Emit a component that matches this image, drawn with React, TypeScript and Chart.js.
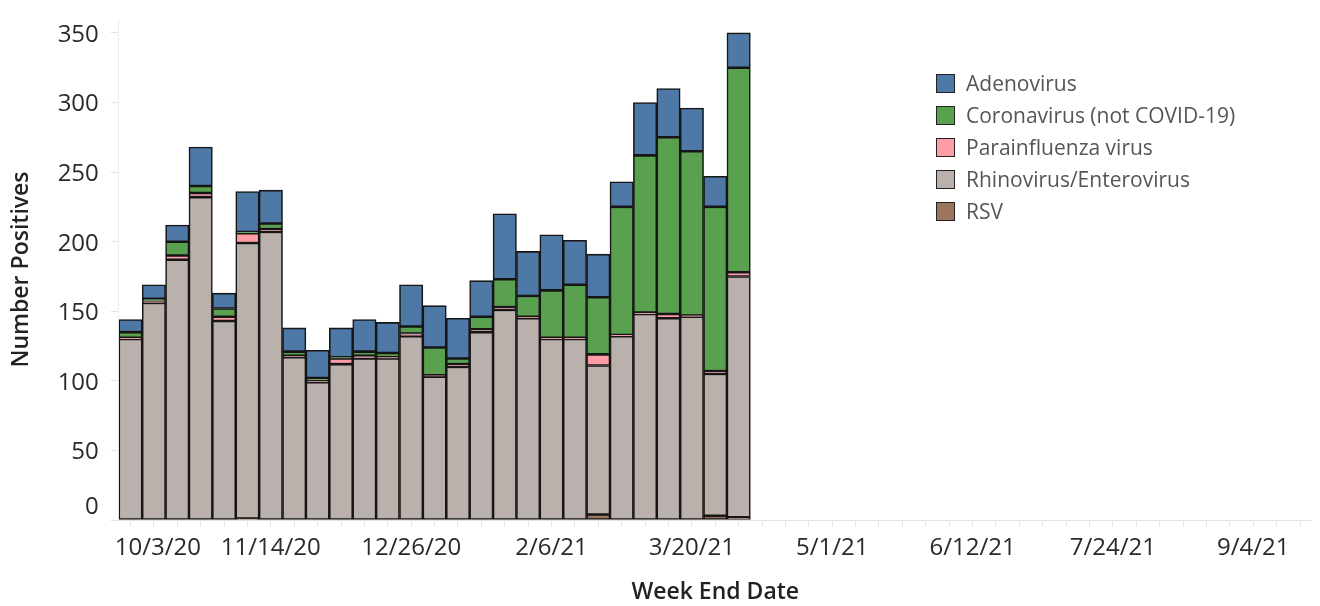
import React, { useEffect, useRef } from 'react';
import { Chart, registerables } from 'chart.js';

Chart.register(...registerables);

const FONT = "'Open Sans', sans-serif";

// Week end dates shown on the axis (weekly)
const weekLabels = [
  '10/3/20', '10/10/20', '10/17/20', '10/24/20', '10/31/20', '11/7/20',
  '11/14/20', '11/21/20', '11/28/20', '12/5/20', '12/12/20', '12/19/20',
  '12/26/20', '1/2/21', '1/9/21', '1/16/21', '1/23/21', '1/30/21',
  '2/6/21', '2/13/21', '2/20/21', '2/27/21', '3/6/21', '3/13/21',
  '3/20/21', '3/27/21', '4/3/21', '4/10/21', '4/17/21', '4/24/21',
  '5/1/21', '5/8/21', '5/15/21', '5/22/21', '5/29/21', '6/5/21',
  '6/12/21', '6/19/21', '6/26/21', '7/3/21', '7/10/21', '7/17/21',
  '7/24/21', '7/31/21', '8/7/21', '8/14/21', '8/21/21', '8/28/21',
  '9/4/21', '9/11/21', '9/18/21',
];

// Series values (bars for 10/3/20 .. 4/3/21)
const rsv = [0, 0, 0, 0, 0, 1, 0, 0, 0, 0, 0, 0, 0, 0, 0, 0, 0, 0, 0, 0, 4, 0, 0, 0, 0, 3, 2];
const rhinoEntero = [130, 156, 187, 232, 143, 198, 207, 117, 99, 112, 116, 116, 132, 103, 110, 135, 151, 145, 130, 130, 107, 132, 148, 145, 146, 102, 173];
const parainfluenza = [1, 1, 3, 3, 3, 7, 2, 1, 1, 4, 2, 1, 2, 1, 2, 2, 2, 1, 1, 1, 8, 1, 1, 3, 1, 2, 3];
const coronavirus = [4, 2, 10, 5, 6, 1, 4, 3, 2, 1, 3, 3, 5, 20, 4, 9, 20, 15, 34, 38, 41, 92, 113, 127, 118, 118, 147];
const adenovirus = [9, 10, 12, 28, 11, 29, 24, 17, 20, 21, 23, 22, 30, 30, 29, 26, 47, 32, 40, 32, 31, 18, 38, 35, 31, 22, 25];

const yTickValues = [0, 50, 100, 150, 200, 250, 300, 350];
const xLabelEvery = 6;

const seriesNames = ['RSV', 'Rhinovirus/Enterovirus', 'Parainfluenza virus', 'Coronavirus (not COVID-19)', 'Adenovirus'];
const seriesColors = ['#9C755F', '#BAB0AC', '#FF9DA7', '#59A14F', '#4E79A7'];
const seriesData = [rsv, rhinoEntero, parainfluenza, coronavirus, adenovirus];

export default function App() {
  const canvasRef = useRef<HTMLCanvasElement | null>(null);

  useEffect(() => {
    document.body.style.margin = '0';
    document.body.style.overflow = 'hidden';
    const canvas = canvasRef.current;
    if (!canvas) return;
    Chart.defaults.font.family = FONT;

    const chart = new Chart(canvas, {
      type: 'bar',
      data: {
        labels: weekLabels,
        datasets: seriesNames.map((name, i) => ({
          label: name,
          data: seriesData[i],
          backgroundColor: seriesColors[i],
          borderColor: '#161616',
          borderWidth: 1.6,
          borderSkipped: false,
          barPercentage: 1,
          categoryPercentage: 1,
        })),
      },
      options: {
        responsive: false,
        animation: false,
        layout: { padding: { top: 19, right: 8.3, bottom: 0, left: 0 } },
        plugins: {
          legend: { display: false },
          tooltip: { enabled: false },
        },
        scales: {
          x: {
            stacked: true,
            offset: true,
            grid: { drawOnChartArea: false, tickLength: 6, color: '#e4e4e4', offset: false },
            border: { color: '#e4e4e4' },
            ticks: {
              autoSkip: false,
              maxRotation: 0,
              minRotation: 0,
              padding: 8,
              color: '#2a2a2a',
              font: { size: 24 },
              callback: (_v: any, i: number) => {
                if (i % xLabelEvery !== 0) return '';
                return i === 0 ? '\u2007\u2007\u2007\u2007' + weekLabels[i] : weekLabels[i];
              },
            },
            title: {
              display: true,
              text: 'Week End Date',
              color: '#222',
              font: { size: 23, weight: '600' },
              padding: { top: 18, bottom: 0 },
            },
            afterFit: (s: any) => { s.height = 86; },
          },
          y: {
            stacked: true,
            min: 0,
            max: 360,
            ticks: {
              stepSize: 50,
              padding: 12,
              labelOffset: 2,
              color: '#2a2a2a',
              font: { size: 24 },
              callback: (v: any) => (v === 0 ? ['0', ''] : String(v)),
            },
            afterBuildTicks: (s: any) => {
              s.ticks = yTickValues.map((v) => ({ value: v }));
            },
            grid: { drawOnChartArea: false, tickLength: 8, color: '#e4e4e4' },
            border: { color: '#eeeeee' },
            title: {
              display: true,
              text: 'Number Positives',
              color: '#222',
              font: { size: 23, weight: '600' },
              padding: { top: 8, bottom: 0 },
            },
            afterFit: (s: any) => {
              s.width = 118.8;
              s.paddingTop = 0;
              s.paddingBottom = 0;
            },
          },
        },
      },
    } as any);

    return () => chart.destroy();
  }, []);

  const legendOrder = [4, 3, 2, 1, 0];

  return (
    <div style={{ position: 'relative', width: 1320, height: 606 }}>
      <canvas ref={canvasRef} width={1320} height={606} style={{ display: 'block' }} />
      <div
        style={{
          position: 'absolute',
          left: 936,
          top: 67.5,
          fontFamily: FONT,
          fontSize: 21,
          color: '#555',
        }}
      >
        {legendOrder.map((idx) => (
          <div key={idx} style={{ display: 'flex', alignItems: 'center', height: 32 }}>
            <span
              style={{
                width: 19,
                height: 19,
                boxSizing: 'border-box',
                border: '1.5px solid #222',
                background: seriesColors[idx],
                marginRight: 11,
                flex: '0 0 auto',
              }}
            />
            <span style={{ lineHeight: '19px', whiteSpace: 'nowrap' }}>{seriesNames[idx]}</span>
          </div>
        ))}
      </div>
    </div>
  );
}
